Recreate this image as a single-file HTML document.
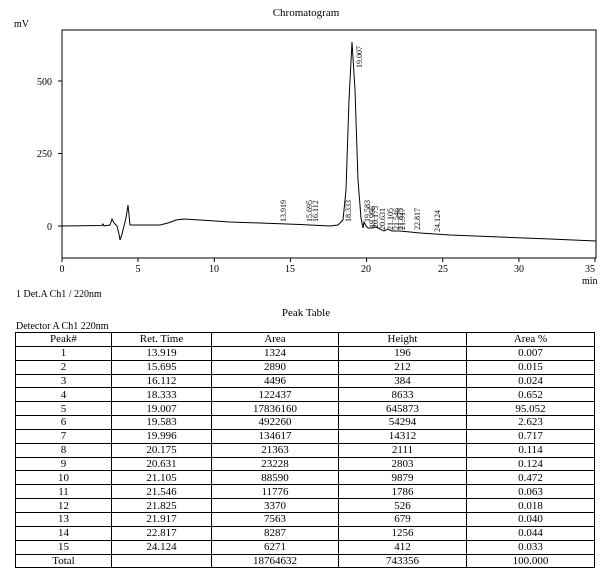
<!DOCTYPE html>
<html><head><meta charset="utf-8"><style>
body{margin:0;width:611px;height:581px;background:#fff;font-family:"Liberation Serif",serif;position:relative;overflow:hidden}
table{position:absolute;left:15px;top:332px;border-collapse:collapse;font-size:11px;width:580px}
td{border:1px solid #000;height:12.85px;padding:0;text-align:center;line-height:12px}
</style></head><body>
<svg width="611" height="330" style="position:absolute;left:0;top:0" font-family="Liberation Serif, serif" font-size="10">
<text x="306" y="16" text-anchor="middle" font-size="11">Chromatogram</text>
<text x="14" y="27" font-size="10">mV</text>
<rect x="62" y="30" width="534" height="228" fill="none" stroke="#000"/>
<g font-size="10" text-anchor="end">
<text x="52" y="85">500</text><text x="52" y="157">250</text><text x="52" y="230">0</text>
</g>
<g stroke="#000">
<line x1="58" y1="81" x2="62" y2="81"/><line x1="58" y1="153.5" x2="62" y2="153.5"/><line x1="58" y1="226" x2="62" y2="226"/>
<line x1="62" y1="258" x2="62" y2="262"/><line x1="138" y1="258" x2="138" y2="262"/><line x1="214.3" y1="258" x2="214.3" y2="262"/><line x1="290.4" y1="258" x2="290.4" y2="262"/><line x1="366.6" y1="258" x2="366.6" y2="262"/><line x1="442.7" y1="258" x2="442.7" y2="262"/><line x1="518.9" y1="258" x2="518.9" y2="262"/><line x1="595" y1="258" x2="595" y2="262"/>
</g>
<g text-anchor="middle">
<text x="62" y="272">0</text><text x="138" y="272">5</text><text x="214" y="272">10</text><text x="290" y="272">15</text><text x="366" y="272">20</text><text x="443" y="272">25</text><text x="519" y="272">30</text><text x="590" y="272">35</text>
</g>
<text x="582" y="284">min</text>
<path fill="none" stroke="#000" stroke-width="1" d="M62,226 L102,225.5 L103,224 L104,226 L110,225 L112,219 L114,223 L117,226 L119,234 L120,240 L122,234 L126,218 L128,205 L130,225 L160,225 L168,223 L176,220 L184,219 L200,220 L230,222 L260,223 L300,224.5 L330,226 L338,225 L343,220 L346,190 L349,100 L352,42 L355,90 L358,180 L361,218 L363,228 L364,222 L366,226 L368,228 L372,228 L376,227 L380,229 L384,231 L388,229 L392,231 L400,231 L420,233 L450,235 L500,237 L550,239 L596,241"/>
<g font-size="8" fill="#000">
<text transform="translate(286,222) rotate(-90)">13.919</text>
<text transform="translate(312,222) rotate(-90)">15.695</text>
<text transform="translate(318,222) rotate(-90)">16.112</text>
<text transform="translate(351,222) rotate(-90)">18.333</text>
<text transform="translate(362,68) rotate(-90)">19.007</text>
<text transform="translate(370,222) rotate(-90)">19.583</text>
<text transform="translate(375,228) rotate(-90)">19.996</text>
<text transform="translate(378,228) rotate(-90)">20.175</text>
<text transform="translate(385,230) rotate(-90)">20.631</text>
<text transform="translate(393,230) rotate(-90)">21.105</text>
<text transform="translate(399,230) rotate(-90)">21.546</text>
<text transform="translate(403,230) rotate(-90)">21.825</text>
<text transform="translate(405,230) rotate(-90)">21.917</text>
<text transform="translate(420,230) rotate(-90)">22.817</text>
<text transform="translate(440,232) rotate(-90)">24.124</text>
</g>
<text x="16" y="297" font-size="10">1 Det.A Ch1 / 220nm</text>
<text x="306" y="316" text-anchor="middle" font-size="11">Peak Table</text>
<text x="16" y="329" font-size="10">Detector A Ch1 220nm</text>
</svg>
<table>
<colgroup><col style="width:96px"><col style="width:100px"><col style="width:127px"><col style="width:128px"><col></colgroup>
<tr><td>Peak#</td><td>Ret. Time</td><td>Area</td><td>Height</td><td>Area %</td></tr>
<tr><td>1</td><td>13.919</td><td>1324</td><td>196</td><td>0.007</td></tr>
<tr><td>2</td><td>15.695</td><td>2890</td><td>212</td><td>0.015</td></tr>
<tr><td>3</td><td>16.112</td><td>4496</td><td>384</td><td>0.024</td></tr>
<tr><td>4</td><td>18.333</td><td>122437</td><td>8633</td><td>0.652</td></tr>
<tr><td>5</td><td>19.007</td><td>17836160</td><td>645873</td><td>95.052</td></tr>
<tr><td>6</td><td>19.583</td><td>492260</td><td>54294</td><td>2.623</td></tr>
<tr><td>7</td><td>19.996</td><td>134617</td><td>14312</td><td>0.717</td></tr>
<tr><td>8</td><td>20.175</td><td>21363</td><td>2111</td><td>0.114</td></tr>
<tr><td>9</td><td>20.631</td><td>23228</td><td>2803</td><td>0.124</td></tr>
<tr><td>10</td><td>21.105</td><td>88590</td><td>9879</td><td>0.472</td></tr>
<tr><td>11</td><td>21.546</td><td>11776</td><td>1786</td><td>0.063</td></tr>
<tr><td>12</td><td>21.825</td><td>3370</td><td>526</td><td>0.018</td></tr>
<tr><td>13</td><td>21.917</td><td>7563</td><td>679</td><td>0.040</td></tr>
<tr><td>14</td><td>22.817</td><td>8287</td><td>1256</td><td>0.044</td></tr>
<tr><td>15</td><td>24.124</td><td>6271</td><td>412</td><td>0.033</td></tr>
<tr><td>Total</td><td></td><td>18764632</td><td>743356</td><td>100.000</td></tr>
</table>
</body></html>
